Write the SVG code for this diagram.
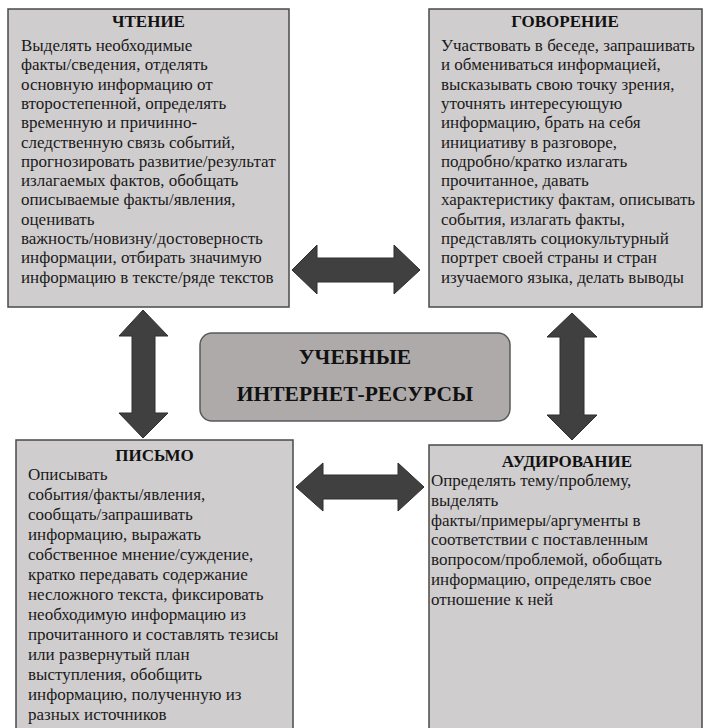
<svg xmlns="http://www.w3.org/2000/svg" width="704" height="728" viewBox="0 0 704 728">
<style>
.box{fill:#d0cdce;stroke:#4a4a4a;stroke-width:1.5}
.center{fill:#aeaaa9;stroke:#5a5a5a;stroke-width:1.5}
.arr{fill:#404040;stroke:#2e2e2e;stroke-width:1}
text{font-family:'Liberation Serif','Times New Roman',serif}
.t{font-size:17px;fill:#1a1a1a}
.h{font-size:17px;font-weight:bold;fill:#111;text-anchor:middle}
.c{font-size:21.5px;font-weight:bold;fill:#111;text-anchor:middle}
</style>
<rect width="704" height="728" fill="#fff"/>
<g id="connectors">
<polygon class="arr" points="292,270 317,245 317,258 394,258 394,245 420,270 394,294 394,282 317,282 317,294"/>
<polygon class="arr" points="143,310 168,336 155,336 155,413 168,413 143,438 119,413 132,413 132,336 119,336"/>
<polygon class="arr" points="572,313 597,337 584,337 584,415 597,415 572,440 547,415 560,415 560,337 547,337"/>
<polygon class="arr" points="296,487 323,463 323,475 398,475 398,463 424,487 398,511 398,499 323,499 323,511"/>
</g>
<g id="reading">
<rect class="box" x="8" y="9" width="281" height="298"/>
<text class="h" x="148.5" y="27">ЧТЕНИЕ</text>
<text class="t">
<tspan x="21" y="51">Выделять необходимые</tspan>
<tspan x="21" dy="19.3">факты/сведения, отделять</tspan>
<tspan x="21" dy="19.3">основную информацию от</tspan>
<tspan x="21" dy="19.3">второстепенной, определять</tspan>
<tspan x="21" dy="19.3">временную и причинно-</tspan>
<tspan x="21" dy="19.3">следственную связь событий,</tspan>
<tspan x="21" dy="19.3">прогнозировать развитие/результат</tspan>
<tspan x="21" dy="19.3">излагаемых фактов, обобщать</tspan>
<tspan x="21" dy="19.3">описываемые факты/явления,</tspan>
<tspan x="21" dy="19.3">оценивать</tspan>
<tspan x="21" dy="19.3">важность/новизну/достоверность</tspan>
<tspan x="21" dy="19.3">информации, отбирать значимую</tspan>
<tspan x="21" dy="19.3">информацию в тексте/ряде текстов</tspan>
</text>
</g>
<g id="speaking">
<rect class="box" x="429" y="9" width="273" height="298"/>
<text class="h" x="565" y="27">ГОВОРЕНИЕ</text>
<text class="t">
<tspan x="441" y="51">Участвовать в беседе, запрашивать</tspan>
<tspan x="441" dy="19.3">и обмениваться информацией,</tspan>
<tspan x="441" dy="19.3">высказывать свою точку зрения,</tspan>
<tspan x="441" dy="19.3">уточнять интересующую</tspan>
<tspan x="441" dy="19.3">информацию, брать на себя</tspan>
<tspan x="441" dy="19.3">инициативу в разговоре,</tspan>
<tspan x="441" dy="19.3">подробно/кратко излагать</tspan>
<tspan x="441" dy="19.3">прочитанное, давать</tspan>
<tspan x="441" dy="19.3">характеристику фактам, описывать</tspan>
<tspan x="441" dy="19.3">события, излагать факты,</tspan>
<tspan x="441" dy="19.3">представлять социокультурный</tspan>
<tspan x="441" dy="19.3">портрет своей страны и стран</tspan>
<tspan x="441" dy="19.3">изучаемого языка, делать выводы</tspan>
</text>
</g>
<g id="center">
<rect class="center" x="200" y="333" width="310" height="88" rx="12" ry="12"/>
<text class="c" x="355" y="364">УЧЕБНЫЕ</text>
<text class="c" x="355" y="401">ИНТЕРНЕТ-РЕСУРСЫ</text>
</g>
<g id="writing">
<rect class="box" x="16" y="440" width="277" height="300"/>
<text class="h" x="154.5" y="461">ПИСЬМО</text>
<text class="t">
<tspan x="28" y="480">Описывать</tspan>
<tspan x="28" dy="20">события/факты/явления,</tspan>
<tspan x="28" dy="20">сообщать/запрашивать</tspan>
<tspan x="28" dy="20">информацию, выражать</tspan>
<tspan x="28" dy="20">собственное мнение/суждение,</tspan>
<tspan x="28" dy="20">кратко передавать содержание</tspan>
<tspan x="28" dy="20">несложного текста, фиксировать</tspan>
<tspan x="28" dy="20">необходимую информацию из</tspan>
<tspan x="28" dy="20">прочитанного и составлять тезисы</tspan>
<tspan x="28" dy="20">или развернутый план</tspan>
<tspan x="28" dy="20">выступления, обобщить</tspan>
<tspan x="28" dy="20">информацию, полученную из</tspan>
<tspan x="28" dy="20">разных источников</tspan>
</text>
</g>
<g id="listening">
<rect class="box" x="429" y="445" width="273" height="300"/>
<text class="h" x="567" y="467">АУДИРОВАНИЕ</text>
<text class="t">
<tspan x="431" y="486">Определять тему/проблему,</tspan>
<tspan x="431" dy="19.8">выделять</tspan>
<tspan x="431" dy="19.8">факты/примеры/аргументы в</tspan>
<tspan x="431" dy="19.8">соответствии с поставленным</tspan>
<tspan x="431" dy="19.8">вопросом/проблемой, обобщать</tspan>
<tspan x="431" dy="19.8">информацию, определять свое</tspan>
<tspan x="431" dy="19.8">отношение к ней</tspan>
</text>
</g>
</svg>
